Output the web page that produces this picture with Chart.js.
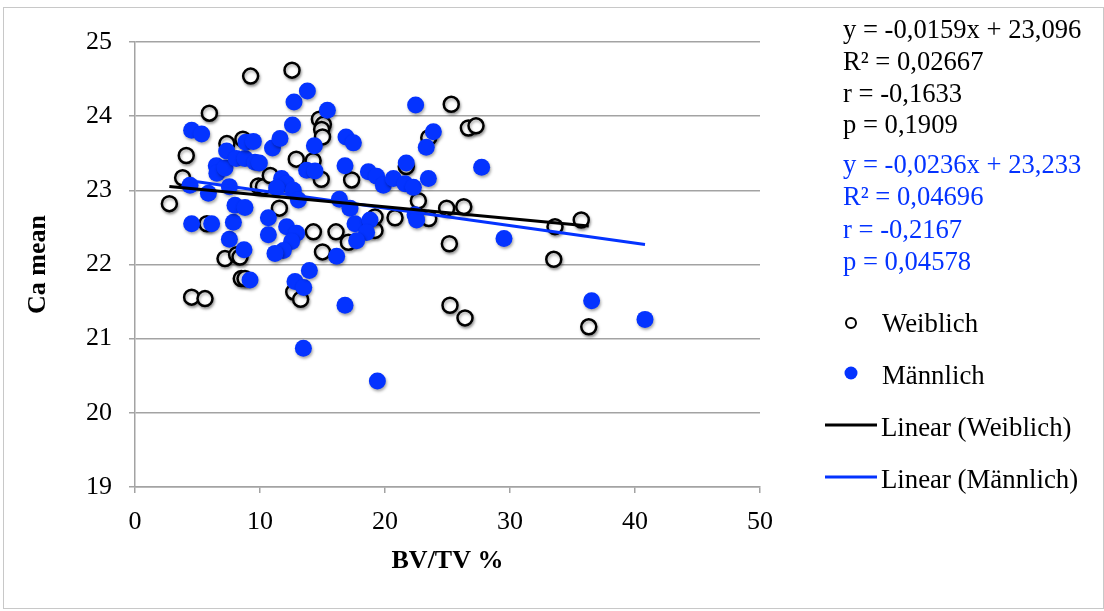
<!DOCTYPE html>
<html>
<head>
<meta charset="utf-8">
<script src="https://cdn.jsdelivr.net/npm/chart.js@4/dist/chart.umd.min.js"></script>
<style>
  html, body { margin: 0; padding: 0; background: #fff; }
  #wrap { width: 1104px; height: 611px; position: relative; }
</style>
</head>
<body>
<div id="wrap"><canvas id="chart"></canvas></div>
<script>
// Weiblich (open circles)
const weiblichX = [2.75, 3.81, 4.1, 4.53, 5.6, 5.75, 5.95, 7.2, 7.35, 8.13, 8.4, 8.5, 8.8, 8.63, 9.25,
    9.87, 10.27, 10.82, 11.55, 12.56, 12.7, 12.9, 13.25, 14.27, 14.25, 14.75, 15.07, 14.93, 15.0,
    14.9, 15.0, 16.08, 17.07, 17.33, 19.2, 19.2, 20.8, 21.7, 22.67, 23.5, 23.5, 24.93, 25.15, 25.3,
    25.2, 26.3, 26.4, 26.67, 27.28, 33.6, 33.5, 35.7, 36.3];
const weiblichY = [22.82, 23.17, 23.47, 21.56, 21.54, 22.55, 24.04, 22.08, 23.63, 22.13, 22.1, 21.81,
    21.81, 23.69, 24.54, 23.06, 23.05, 23.2, 22.76, 24.62, 21.63, 23.42, 21.53, 22.44, 23.4, 23.96,
    23.89, 23.82, 23.72, 23.15, 22.17, 22.44, 22.3, 23.14, 22.46, 22.64, 22.63, 23.32, 22.86, 23.71,
    22.62, 22.76, 22.28, 24.16, 21.45, 22.78, 21.28, 23.84, 23.87, 22.51, 22.07, 22.6, 21.16];

// Männlich (filled blue)
const maennlichX = [4.4, 4.53, 5.33, 4.53, 5.87, 6.13, 6.5, 6.55, 7.2, 7.33, 7.55, 7.55, 7.87, 8.0,
    8.1, 8.8, 8.72, 8.8, 8.88, 9.47, 9.6, 9.95, 9.2, 10.67, 10.67, 11.0, 11.6, 11.73, 12.13, 11.33,
    12.67, 12.13, 12.93, 12.53, 11.87, 11.2, 12.6, 12.72, 13.79, 13.07, 12.8, 13.5, 13.47, 13.73,
    14.4, 14.35, 13.95, 15.39, 16.88, 17.47, 16.8, 16.35, 17.2, 17.6, 18.8, 18.53, 17.73, 16.13,
    16.8, 18.67, 19.33, 19.87, 20.67, 21.6, 22.27, 21.7, 22.45, 23.87, 23.3, 23.47, 22.4, 22.53,
    27.73, 29.52, 19.39, 36.53, 40.8];
const maennlichY = [23.07, 23.81, 23.76, 22.55, 22.96, 22.55, 23.33, 23.23, 23.3, 23.53, 23.05, 22.34,
    22.57, 22.8, 23.43, 23.43, 22.2, 22.77, 23.65, 23.66, 23.38, 23.37, 21.79, 22.63, 22.4, 23.57,
    23.7, 23.16, 23.09, 23.03, 23.0, 22.51, 22.42, 22.31, 22.19, 22.15, 23.88, 24.19, 24.34, 22.87,
    21.77, 21.69, 20.87, 23.27, 23.26, 23.6, 21.92, 24.08, 23.72, 23.64, 23.33, 22.88, 22.76, 22.55,
    22.6, 22.43, 22.32, 22.11, 21.45, 23.25, 23.19, 23.07, 23.16, 23.09, 23.04, 23.37, 24.15, 23.79,
    23.58, 23.16, 22.67, 22.6, 23.31, 22.35, 20.43, 21.51, 21.26];

// trendlines as printed in the chart: slope, intercept
const trendWeiblich = [-0.0159, 23.096];
const trendMaennlich = [-0.0236, 23.233];

const statsWeiblich = ['y = -0,0159x + 23,096', 'R\u00b2 = 0,02667', 'r = -0,1633', 'p = 0,1909'];
const statsMaennlich = ['y = -0,0236x + 23,233', 'R\u00b2 = 0,04696', 'r = -0,2167', 'p = 0,04578'];

const xTicks = [0, 10, 20, 30, 40, 50];
const yTicks = [19, 20, 21, 22, 23, 24, 25];

const BLUE = '#0433ff';
const GRID = '#a3a3a3';
const FONT = 'Liberation Serif';

function toPoints(xs, ys) {
    return xs.map((x, i) => ({ x: x, y: ys[i] }));
}

function trendPoints(xs, coef) {
    const lo = Math.min(...xs);
    const hi = Math.max(...xs);
    return [lo, hi].map((x) => ({ x: x, y: coef[0] * x + coef[1] }));
}

// soft drop shadow under the markers, like the office chart
const shadowPlugin = {
    id: 'markerShadow',
    beforeDatasetDraw(chart, args) {
        if (args.meta.type !== 'scatter') return;
        const ctx = chart.ctx;
        ctx.save();
        ctx.shadowColor = 'rgba(0,0,0,0.35)';
        ctx.shadowBlur = 3;
        ctx.shadowOffsetX = 1;
        ctx.shadowOffsetY = 2;
    },
    afterDatasetDraw(chart, args) {
        if (args.meta.type !== 'scatter') return;
        chart.ctx.restore();
    },
};

// stats text and legend on the right side
const sidePlugin = {
    id: 'sidePanel',
    afterDraw(chart) {
        const ctx = chart.ctx;
        ctx.save();
        // frame round the chart
        ctx.strokeStyle = '#c8c8c8';
        ctx.lineWidth = 1;
        ctx.strokeRect(3.5, 7.5, 1100, 601);

        ctx.font = '26.6px "' + FONT + '"';
        ctx.textBaseline = 'middle';
        ctx.textAlign = 'left';
        ctx.fillStyle = '#000';
        statsWeiblich.forEach((t, i) => ctx.fillText(t, 843, 31 + i * 31.8));
        ctx.fillStyle = BLUE;
        statsMaennlich.forEach((t, i) => ctx.fillText(t, 843, 166 + i * 32.3));

        const ds = chart.data.datasets;
        // Weiblich marker
        ctx.fillStyle = '#fff';
        ctx.strokeStyle = '#000';
        ctx.lineWidth = 2;
        ctx.beginPath();
        ctx.arc(851, 323, 5, 0, Math.PI * 2);
        ctx.fill();
        ctx.stroke();
        // Männlich marker
        ctx.fillStyle = BLUE;
        ctx.beginPath();
        ctx.arc(851, 373, 6.5, 0, Math.PI * 2);
        ctx.fill();
        // trend lines
        ctx.lineWidth = 3;
        ctx.strokeStyle = '#000';
        ctx.beginPath();
        ctx.moveTo(825, 425);
        ctx.lineTo(877, 425);
        ctx.stroke();
        ctx.strokeStyle = BLUE;
        ctx.beginPath();
        ctx.moveTo(825, 477);
        ctx.lineTo(877, 477);
        ctx.stroke();

        ctx.font = '26.8px "' + FONT + '"';
        ctx.fillStyle = '#000';
        ctx.fillText(ds[0].label, 882, 325);
        ctx.fillText(ds[1].label, 882, 377);
        ctx.fillText(ds[3].label, 881, 429);
        ctx.fillText(ds[2].label, 881, 481);
        ctx.restore();
    },
};

new Chart(document.getElementById('chart'), {
    type: 'scatter',
    data: {
        datasets: [
            {
                label: 'Weiblich',
                data: toPoints(weiblichX, weiblichY),
                pointRadius: 7.5,
                pointBorderWidth: 2.5,
                pointBackgroundColor: '#fff',
                pointBorderColor: '#000',
                order: 4,
            },
            {
                label: 'M\u00e4nnlich',
                data: toPoints(maennlichX, maennlichY),
                pointRadius: 8.5,
                pointBorderWidth: 0,
                pointBackgroundColor: BLUE,
                pointBorderColor: BLUE,
                order: 3,
            },
            {
                type: 'line',
                label: 'Linear (M\u00e4nnlich)',
                data: trendPoints(maennlichX, trendMaennlich),
                borderColor: BLUE,
                borderWidth: 3,
                pointRadius: 0,
                order: 2,
            },
            {
                type: 'line',
                label: 'Linear (Weiblich)',
                data: trendPoints(weiblichX, trendWeiblich),
                borderColor: '#000',
                borderWidth: 3,
                pointRadius: 0,
                order: 1,
            },
        ],
    },
    plugins: [shadowPlugin, sidePlugin],
    options: {
        responsive: true,
        maintainAspectRatio: false,
        animation: false,
        layout: { padding: { left: 0, top: 42, right: 344, bottom: 0 } },
        plugins: {
            legend: { display: false },
            tooltip: { enabled: false },
        },
        scales: {
            x: {
                type: 'linear',
                min: 0,
                max: 50,
                afterBuildTicks: (scale) => {
                    scale.ticks = xTicks.map((v) => ({ value: v }));
                },
                afterFit: (scale) => {
                    scale.height = 124;
                },
                ticks: {
                    color: '#000',
                    font: { family: FONT, size: 26 },
                    padding: 14,
                    maxRotation: 0,
                },
                grid: {
                    drawOnChartArea: false,
                    drawTicks: true,
                    tickLength: 6,
                    color: GRID,
                    lineWidth: 1.5,
                },
                border: { color: GRID, width: 1.5 },
                title: {
                    display: true,
                    text: 'BV/TV %',
                    color: '#000',
                    font: { family: FONT, size: 26, weight: 'bold' },
                    padding: { top: 0, bottom: 34 },
                },
            },
            y: {
                type: 'linear',
                min: 19,
                max: 25,
                afterBuildTicks: (scale) => {
                    scale.ticks = yTicks.map((v) => ({ value: v }));
                },
                afterFit: (scale) => {
                    scale.width = 135;
                },
                ticks: {
                    color: '#000',
                    font: { family: FONT, size: 26 },
                    padding: 17,
                },
                grid: {
                    drawTicks: true,
                    tickLength: 6,
                    color: GRID,
                    lineWidth: 1.5,
                },
                border: { color: GRID, width: 1.5 },
                title: {
                    display: true,
                    text: 'Ca mean',
                    color: '#000',
                    font: { family: FONT, size: 26, weight: 'bold' },
                    padding: { top: 23, bottom: 0 },
                },
            },
        },
    },
});
</script>
</body>
</html>
